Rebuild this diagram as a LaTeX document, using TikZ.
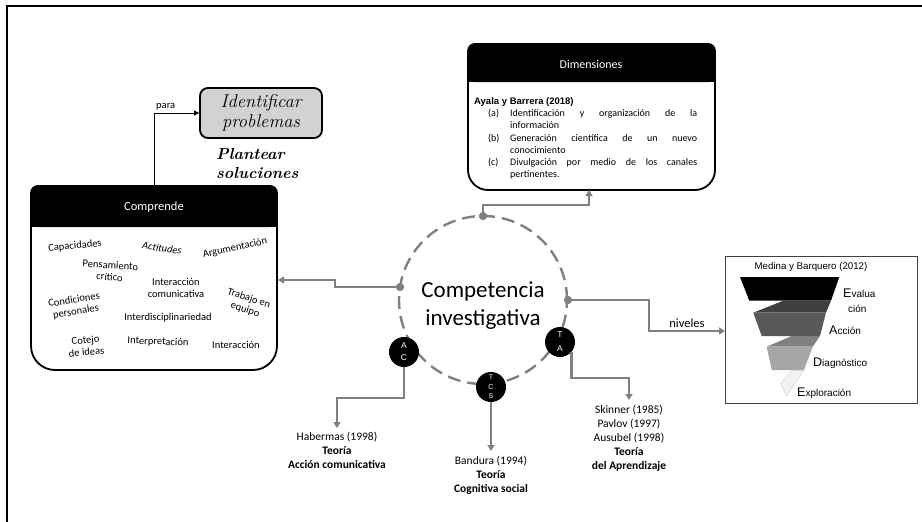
\documentclass[tikz,border=0pt]{standalone}
\usepackage{fontspec}
\setmainfont{Carlito}
\newfontfamily\arialf{Liberation Sans}
\newfontfamily\serifit{Latin Modern Roman}
\usetikzlibrary{arrows.meta}
\definecolor{lineg}{RGB}{128,128,128}
\definecolor{idfill}{RGB}{210,210,210}
\begin{document}
\begin{tikzpicture}[x=1pt,y=-1pt,
  gline/.style={draw=lineg, line width=2.4pt, -{Triangle[length=6pt,width=7pt]}},
  word/.style={font=\fontsize{10.5}{12}\selectfont, align=center, inner sep=0pt},
  lbl/.style={font=\fontsize{11.5}{14}\selectfont, align=center, inner sep=0pt},
  badge/.style={circle, fill=black, minimum size=30pt, inner sep=0pt, text=white, align=center},
  gdot/.style={circle, fill=lineg, minimum size=8pt, inner sep=0pt},
  itemtxt/.style={anchor=base west, text width=187pt, align=justify, inner sep=0pt, font=\fontsize{10}{12}\selectfont},
  itemlbl/.style={anchor=base west, inner sep=0pt, font=\fontsize{10}{12}\selectfont},
  funlbl/.style={anchor=west, inner sep=0pt, font=\arialf\fontsize{10}{11}\selectfont}
]
\useasboundingbox (0,0) rectangle (922,522);
% outer frame
\draw[line width=2pt] (7,522) -- (7,6) -- (922,6);

% Identificar problemas
\node[draw, line width=1.8pt, fill=idfill, rounded corners=8pt, minimum width=122pt, minimum height=50pt,
      align=center, font=\serifit\itshape\fontsize{18.5}{20}\selectfont] (ident) at (261,113) {Identificar\\problemas};
\node[anchor=west, align=left, inner sep=0pt, font=\serifit\bfseries\itshape\fontsize{16}{19}\selectfont] (plant) at (216,164) {Plantear\\soluciones};

% Comprende box
\draw[line width=1.8pt, fill=white, rounded corners=24pt] (31,200) rectangle (277,370);
\fill[rounded corners=8pt] (30.1,185) rectangle (277.9,227);
\fill (30.1,210) rectangle (277.9,227);
\node[minimum width=246pt, minimum height=185pt, inner sep=0pt] (comp) at (154,277.5) {};
\node[text=white, font=\fontsize{12.5}{13}\selectfont] (comph) at (154,207) {Comprende};
\coordinate (compR) at (278,280);

\node[word, rotate=5] (w1) at (75,246) {Capacidades};
\node[word, rotate=-8, font=\itshape\fontsize{10.5}{12}\selectfont] (w2) at (162,248) {Actitudes};
\node[word, rotate=12] (w3) at (235,248) {Argumentación};
\node[word, rotate=-4] (w4) at (110,271) {Pensamiento\\crítico};
\node[word] (w5) at (176,288) {Interacción\\comunicativa};
\node[word, rotate=-18] (w6) at (247,304) {Trabajo en\\equipo};
\node[word, rotate=9] (w7) at (75,306) {Condiciones\\personales};
\node[word] (w8) at (168,318) {Interdisciplinariedad};
\node[word, rotate=5] (w9) at (86,346) {Cotejo\\de ideas};
\node[word, rotate=-2] (w10) at (158,342) {Interpretación};
\node[word] (w11) at (236,345) {Interacción};

% para arrow
\draw[line width=0.8pt, -{Triangle[length=5pt,width=5pt]}] (comp.north) |- node[pos=0.63, above, inner sep=2pt, font=\fontsize{10.5}{11}\selectfont] {para} (ident.west);

% Dimensiones box
\draw[line width=1.8pt, fill=white, rounded corners=20pt] (468,55) rectangle (715,190);
\fill[rounded corners=8pt] (467.1,43) rectangle (715.9,82);
\fill (467.1,65) rectangle (715.9,82);
\node[minimum width=247pt, minimum height=147pt, inner sep=0pt] (dim) at (591.5,116.5) {};
\node[text=white, font=\fontsize{12}{13}\selectfont] (dimh) at (591,64) {Dimensiones};
\coordinate (dimB) at (589,190);
\node[anchor=base west, inner sep=0pt, font=\arialf\bfseries\fontsize{9.5}{11}\selectfont] (ayala) at (474,104) {Ayala y Barrera (2018)};
\node[itemlbl] (la) at (488,116) {(a)};
\node[itemtxt] (ta1) at (510,116) {Identificación y organización de la\linebreak información};
\node[itemlbl] (lb) at (488,141) {(b)};
\node[itemtxt] (tb1) at (510,141) {Generación científica de un nuevo\linebreak conocimiento};
\node[itemlbl] (lc) at (488,165) {(c)};
\node[itemtxt] (tc1) at (510,165) {Divulgación por medio de los canales\linebreak pertinentes.};

% Medina box
\node[draw=black!75, line width=1pt, minimum width=192pt, minimum height=147pt, inner sep=0pt] (med) at (821,329.5) {};
\coordinate (medW) at (725,331);
\node[inner sep=0pt, font=\arialf\fontsize{9.7}{10}\selectfont] (medt) at (811,267) {Medina y Barquero (2012)};
\fill[black] (740,277) -- (839.3,277) -- (831,300.7) -- (749.3,300.7) -- cycle;
\fill[black!75] (783.3,300.7) -- (831,300.7) -- (826,312.7) -- (753.3,312.7) -- cycle;
\fill[black!65] (753.3,312.7) -- (826,312.7) -- (820,336) -- (761.7,336) -- cycle;
\fill[black!50] (791.7,336) -- (820,336) -- (812.7,346.7) -- (766.7,346.7) -- cycle;
\fill[black!35] (766.7,346.7) -- (812.7,346.7) -- (804,370) -- (771.7,370) -- cycle;
\draw[black!15, fill=black!5, line width=0.6pt] (791.7,370.5) -- (804,370.5) -- (786,396) -- (781,383.3) -- cycle;
\node[funlbl] (fe) at (843,293) {{\fontsize{12.5}{12}\selectfont E}valua};
\node[funlbl] (fe2) at (848,309) {ción};
\node[funlbl] (fa) at (829,330) {{\fontsize{12.5}{12}\selectfont A}cción};
\node[funlbl] (fd) at (813,363) {{\fontsize{12.5}{12}\selectfont D}iagnóstico};
\node[funlbl] (fx) at (797,393) {{\fontsize{12.5}{12}\selectfont E}xploración};

% central circle
\draw[draw=lineg, line width=2.4pt, dash pattern=on 13pt off 7pt] (483,300) circle (84pt);
\node[align=center, inner sep=0pt, font=\fontsize{23}{28}\selectfont] (ci) at (483,306) {Competencia\\investigativa};

\node[gdot] (dtop) at (483,216) {};
\node[gdot] (dleft) at (400,287) {};
\node[gdot] (dright) at (568,300) {};

% labels below
\node[lbl, anchor=north] (hab) at (337,432) {Habermas (1998)\\\textbf{Teoría}\\\textbf{Acción comunicativa}};
\node[lbl, anchor=north] (band) at (491,456) {Bandura (1994)\\\textbf{Teoría}\\\textbf{Cognitiva social}};
\node[lbl, anchor=north] (skin) at (629,405) {Skinner (1985)\\Pavlov (1997)\\Ausubel (1998)\\\textbf{Teoría}\\\textbf{del Aprendizaje}};

% badges
\node[badge, font=\arialf\fontsize{8.5}{12}\selectfont] (ac) at (404,352) {A\\C};
\node[badge, font=\arialf\fontsize{7}{9.5}\selectfont] (tcs) at (491,387) {T\\C\\S};
\node[badge, font=\arialf\fontsize{8.5}{14}\selectfont] (ta) at (560,342) {T\\A};

% connectors
\draw[gline] (dleft.center) -- (335,287) |- (compR);
\draw[gline] (dtop.center) |- (589,205) -- (dimB);
\draw[gline] (dright.center) -| (649,331) -- node[above, inner sep=2pt, font=\fontsize{12.5}{13}\selectfont, text=black] {niveles} (medW);
\draw[gline, shorten >=4pt] (ac.south) |- (337,398) -- (hab.north);
\draw[gline, shorten >=5pt] (tcs.south) -- (band.north);
\draw[gline, shorten >=5pt] (ta.-40) |- (629,378) -- (skin.north);

% redraw dots on top
\node[gdot] at (dtop) {};
\node[gdot] at (dleft) {};
\node[gdot] at (dright) {};
\end{tikzpicture}
\end{document}
